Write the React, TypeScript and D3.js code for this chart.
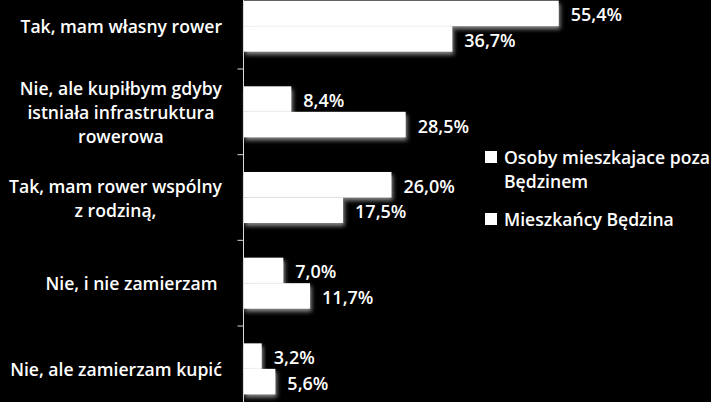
import React, { useEffect, useRef } from 'react';
import * as d3 from 'd3';

// Category labels (split into the lines shown on the axis)
const categories: string[][] = [
  ['Tak, mam własny rower'],
  ['Nie, ale kupiłbym gdyby', 'istniała infrastruktura', 'rowerowa'],
  ['Tak, mam rower wspólny', 'z rodziną,'],
  ['Nie, i nie zamierzam '],
  ['Nie, ale zamierzam kupić'],
];

const seriesNames = ['Osoby mieszkajace poza Będzinem', 'Mieszkańcy Będzina'];
const outsideValues = [55.4, 8.4, 26.0, 7.0, 3.2];
const residentValues = [36.7, 28.5, 17.5, 11.7, 5.6];

const legendLines: string[][] = [
  ['Osoby mieszkajace poza', 'Będzinem'],
  ['Mieszkańcy Będzina'],
];

const fmt = (v: number) => v.toFixed(1).replace('.', ',') + '%';

const App: React.FC = () => {
  const svgRef = useRef<SVGSVGElement>(null);

  const width = 711;
  const height = 402;
  const axisX = 243.5;
  const font = '"Open Sans", sans-serif';
  const labelSize = '17.6px';
  const valueSize = '18px';

  useEffect(() => {
    if (!svgRef.current) return;
    const svg = d3.select(svgRef.current);
    svg.selectAll('*').remove();

    const defs = svg.append('defs');
    const shadow = defs.append('filter').attr('id', 'bar-shadow')
      .attr('x', '-10%').attr('y', '-20%').attr('width', '130%').attr('height', '160%');
    shadow.append('feDropShadow')
      .attr('dx', 1.5).attr('dy', 3).attr('stdDeviation', 2)
      .attr('flood-color', '#9a9a9a').attr('flood-opacity', 0.9);

    svg.append('rect').attr('width', width).attr('height', height).attr('fill', '#000');

    const keys = categories.map((_, i) => String(i));

    const y = d3.scaleBand<string>()
      .domain(keys)
      .range([-16.7, 411.7]);

    const ySeries = d3.scaleBand<string>()
      .domain(seriesNames)
      .range([0, y.step()])
      .paddingInner(0)
      .paddingOuter(0.68);

    const x = d3.scaleLinear().domain([0, 60]).range([axisX, axisX + 341.4]);

    const data = keys.map((k, i) => ({
      key: k,
      values: [outsideValues[i], residentValues[i]],
    }));

    // Bars
    const groups = svg.append('g').selectAll('g.cat')
      .data(data)
      .enter()
      .append('g')
      .attr('class', 'cat')
      .attr('transform', d => `translate(0, ${y(d.key)})`);

    groups.selectAll('rect')
      .data(d => d.values.map((v, j) => ({ v, s: seriesNames[j] })))
      .enter()
      .append('rect')
      .attr('x', x(0))
      .attr('y', d => ySeries(d.s)!)
      .attr('width', d => x(d.v) - x(0))
      .attr('height', ySeries.bandwidth())
      .attr('fill', '#fff')
      .attr('filter', 'url(#bar-shadow)');

    // Value labels
    groups.selectAll('text.val')
      .data(d => d.values.map((v, j) => ({ v, s: seriesNames[j] })))
      .enter()
      .append('text')
      .attr('class', 'val')
      .attr('x', d => x(d.v) + 12)
      .attr('y', d => ySeries(d.s)! + ySeries.bandwidth() / 2 + 1)
      .attr('dominant-baseline', 'central')
      .attr('fill', '#fff')
      .style('font-family', font)
      .style('font-size', valueSize)
      .style('font-weight', 600)
      .text(d => fmt(d.v));

    // Axis line and ticks at category boundaries
    svg.append('line')
      .attr('x1', axisX).attr('x2', axisX)
      .attr('y1', 0).attr('y2', height)
      .attr('stroke', '#d9d9d9').attr('stroke-width', 1);

    svg.append('g').selectAll('line')
      .data(keys.slice(1))
      .enter()
      .append('line')
      .attr('x1', axisX - 6).attr('x2', axisX)
      .attr('y1', d => y(d)!).attr('y2', d => y(d)!)
      .attr('stroke', '#d9d9d9').attr('stroke-width', 1);

    // Category labels: lines centred with each other, block right-aligned
    const labelRight = 222;
    const lineH = 24;
    data.forEach((d, i) => {
      const lines = categories[i];
      const cy = y(d.key)! + y.bandwidth() / 2;
      const g = svg.append('g');
      const texts = g.selectAll('text')
        .data(lines)
        .enter()
        .append('text')
        .attr('x', 0)
        .attr('y', (_, j) => cy + (j - (lines.length - 1) / 2) * lineH)
        .attr('text-anchor', 'middle')
        .attr('dominant-baseline', 'central')
        .attr('fill', '#fff')
        .style('white-space', 'pre')
        .style('font-family', font)
        .style('font-size', labelSize)
        .style('font-weight', 600)
        .text(t => t);
      let maxW = 0;
      texts.each(function () {
        maxW = Math.max(maxW, (this as SVGTextElement).getComputedTextLength());
      });
      g.attr('transform', `translate(${labelRight - maxW / 2}, 0)`);
    });

    // Legend
    const legendX = 485;
    const legendTops = [151, 213];
    const legend = svg.append('g');
    legendLines.forEach((lines, i) => {
      legend.append('rect')
        .attr('x', legendX).attr('y', legendTops[i])
        .attr('width', 12).attr('height', 12)
        .attr('fill', '#fff');
      legend.selectAll(null)
        .data(lines)
        .enter()
        .append('text')
        .attr('x', legendX + 19)
        .attr('y', (_, j) => legendTops[i] + 6 + j * 24)
        .attr('dominant-baseline', 'central')
        .attr('fill', '#fff')
        .style('font-family', font)
        .style('font-size', labelSize)
        .style('font-weight', 600)
        .text(t => t);
    });
  }, []);

  return (
    <svg
      ref={svgRef}
      width={width}
      height={height}
      style={{ position: 'fixed', left: 0, top: 0, display: 'block' }}
    />
  );
};

export default App;
